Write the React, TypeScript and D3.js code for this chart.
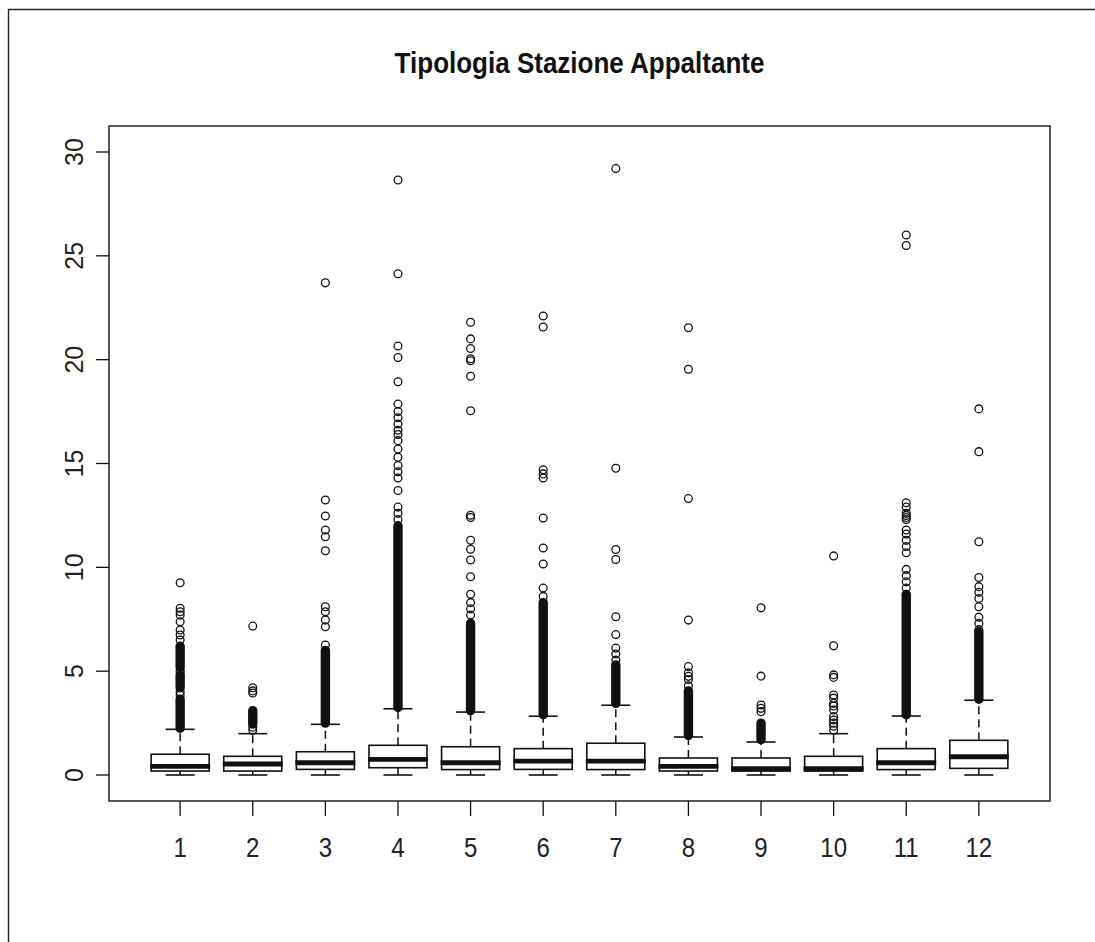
import React from "react";
import * as d3 from "d3";

// Groups of contracting-authority types
const groups = ["1", "2", "3", "4", "5", "6", "7", "8", "9", "10", "11", "12"];

// Five-number summaries per group
const whiskerLow = [0, 0, 0, 0, 0, 0, 0, 0, 0, 0, 0, 0];
const q1 = [0.19, 0.19, 0.27, 0.35, 0.26, 0.27, 0.26, 0.19, 0.19, 0.19, 0.26, 0.32];
const medians = [0.42, 0.53, 0.59, 0.75, 0.59, 0.67, 0.67, 0.42, 0.3, 0.3, 0.59, 0.88];
const q3 = [1.0, 0.9, 1.12, 1.43, 1.36, 1.27, 1.53, 0.82, 0.82, 0.9, 1.27, 1.67];
const whiskerHigh = [2.2, 1.99, 2.44, 3.19, 3.03, 2.83, 3.36, 1.83, 1.59, 1.99, 2.84, 3.6];

// Ranges where outliers are so packed that they merge into a solid column
const denseOutliers: [number, number][][] = [
  [[2.25, 3.65], [4.2, 4.8], [5.2, 6.2]],
  [[2.45, 3.1]],
  [[2.5, 6.0]],
  [[3.25, 12.0]],
  [[3.1, 7.3]],
  [[2.9, 8.3]],
  [[3.45, 5.3]],
  [[1.9, 4.05]],
  [[1.7, 2.5]],
  [],
  [[2.9, 8.7]],
  [[3.65, 6.9]],
];

// Individually visible outliers
const outliers: number[][] = [
  [3.85, 4.0, 4.95, 5.05, 6.5, 6.74, 6.98, 7.38, 7.7, 7.86, 8.03, 9.26],
  [2.15, 2.3, 3.95, 4.05, 4.2, 7.17],
  [6.26, 7.14, 7.46, 7.86, 8.1, 10.8, 11.47, 11.8, 12.47, 13.24, 23.7],
  [12.3, 12.6, 12.9, 13.7, 14.3, 14.6, 14.9, 15.3, 15.7, 16.1, 16.4, 16.6, 16.9, 17.2, 17.5, 17.86, 18.94, 20.1, 20.66, 24.14, 28.65],
  [7.7, 8.0, 8.3, 8.7, 9.55, 10.35, 10.87, 11.3, 12.4, 12.51, 17.54, 19.2, 19.95, 20.04, 20.54, 21.0, 21.8],
  [8.6, 9.0, 10.16, 10.93, 12.37, 14.3, 14.5, 14.7, 21.57, 22.1],
  [5.53, 5.83, 6.11, 6.76, 7.62, 10.38, 10.86, 14.77, 29.2],
  [4.3, 4.6, 4.75, 4.92, 5.22, 7.46, 13.31, 19.54, 21.54],
  [3.05, 3.21, 3.37, 4.76, 8.05],
  [2.15, 2.35, 2.5, 2.65, 2.81, 3.13, 3.32, 3.45, 3.7, 3.85, 4.7, 4.82, 6.22, 10.55],
  [9.0, 9.3, 9.6, 9.9, 10.7, 11.0, 11.3, 11.6, 11.8, 12.3, 12.4, 12.5, 12.6, 12.9, 13.11, 25.5, 26.0],
  [7.0, 7.3, 7.6, 8.1, 8.5, 8.8, 9.07, 9.51, 11.23, 15.57, 17.63],
];

const yTicks = [0, 5, 10, 15, 20, 25, 30];
const title = "Tipologia Stazione Appaltante";

const W = 1095;
const H = 942;
const plot = { left: 109, right: 1050, top: 126, bottom: 801 };

export default function App() {
  const x = d3.scaleLinear().domain([0.02, 12.98]).range([plot.left, plot.right]);
  const y = d3.scaleLinear().domain([-1.252, 31.252]).range([plot.bottom, plot.top]);

  const boxW = 58;
  const capW = 29;
  const r = 3.9;
  const ink = "#111";
  const font = "'Liberation Sans', Arial, sans-serif";

  return (
    <svg
      width={W}
      height={H}
      style={{ position: "absolute", left: 0, top: 0, background: "#fff" }}
    >
      <rect x={0} y={0} width={W} height={H} fill="#fff" />
      {/* outer device border */}
      <path d={`M8.5,${H}V9.5H${W}`} fill="none" stroke="#222" strokeWidth={1.4} />

      <text
        transform={`translate(${(plot.left + plot.right) / 2},73) scale(1,1.1)`}
        textAnchor="middle"
        fontFamily={font}
        fontWeight="bold"
        fontSize={26}
        fill={ink}
      >
        {title}
      </text>

      {/* y axis */}
      {yTicks.map((t) => (
        <g key={t}>
          <line x1={96} x2={plot.left} y1={y(t)} y2={y(t)} stroke={ink} strokeWidth={1.3} />
          <text
            transform={`translate(83,${y(t)}) rotate(-90)`}
            textAnchor="middle"
            fontFamily={font}
            fontSize={25}
            fill="#222"
          >
            {t}
          </text>
        </g>
      ))}

      {/* x axis */}
      {groups.map((g, i) => (
        <g key={g}>
          <line x1={x(i + 1)} x2={x(i + 1)} y1={plot.bottom} y2={816} stroke={ink} strokeWidth={1.3} />
          <text
            transform={`translate(${x(i + 1)},857) scale(1,1.17)`}
            textAnchor="middle"
            fontFamily={font}
            fontSize={24}
            fill="#222"
          >
            {g}
          </text>
        </g>
      ))}

      {/* boxes */}
      {groups.map((g, i) => {
        const cx = x(i + 1);
        return (
          <g key={"box" + g}>
            {denseOutliers[i].map(([lo, hi], k) => (
              <rect
                key={k}
                x={cx - 4.7}
                width={9.4}
                y={y(hi) - 4.7}
                height={y(lo) - y(hi) + 9.4}
                rx={4.7}
                fill={ink}
              />
            ))}
            {outliers[i].map((v, k) => (
              <circle key={k} cx={cx} cy={y(v)} r={r} fill="none" stroke={ink} strokeWidth={1.3} />
            ))}
            <line x1={cx} x2={cx} y1={y(q3[i])} y2={y(whiskerHigh[i])} stroke={ink} strokeWidth={1.5} strokeDasharray="8,5" />
            <line x1={cx} x2={cx} y1={y(q1[i])} y2={y(whiskerLow[i])} stroke={ink} strokeWidth={1.5} strokeDasharray="8,5" />
            <line x1={cx - capW / 2} x2={cx + capW / 2} y1={y(whiskerHigh[i])} y2={y(whiskerHigh[i])} stroke={ink} strokeWidth={1.6} />
            <line x1={cx - capW / 2} x2={cx + capW / 2} y1={y(whiskerLow[i])} y2={y(whiskerLow[i])} stroke={ink} strokeWidth={1.6} />
            <rect
              x={cx - boxW / 2}
              width={boxW}
              y={y(q3[i])}
              height={y(q1[i]) - y(q3[i])}
              fill="#fff"
              stroke={ink}
              strokeWidth={1.6}
            />
            <line
              x1={cx - boxW / 2 - 1}
              x2={cx + boxW / 2 + 1}
              y1={y(medians[i])}
              y2={y(medians[i])}
              stroke={ink}
              strokeWidth={4.8}
            />
          </g>
        );
      })}

      {/* plot frame */}
      <rect
        x={plot.left}
        y={plot.top}
        width={plot.right - plot.left}
        height={plot.bottom - plot.top}
        fill="none"
        stroke={ink}
        strokeWidth={1.4}
      />
    </svg>
  );
}
